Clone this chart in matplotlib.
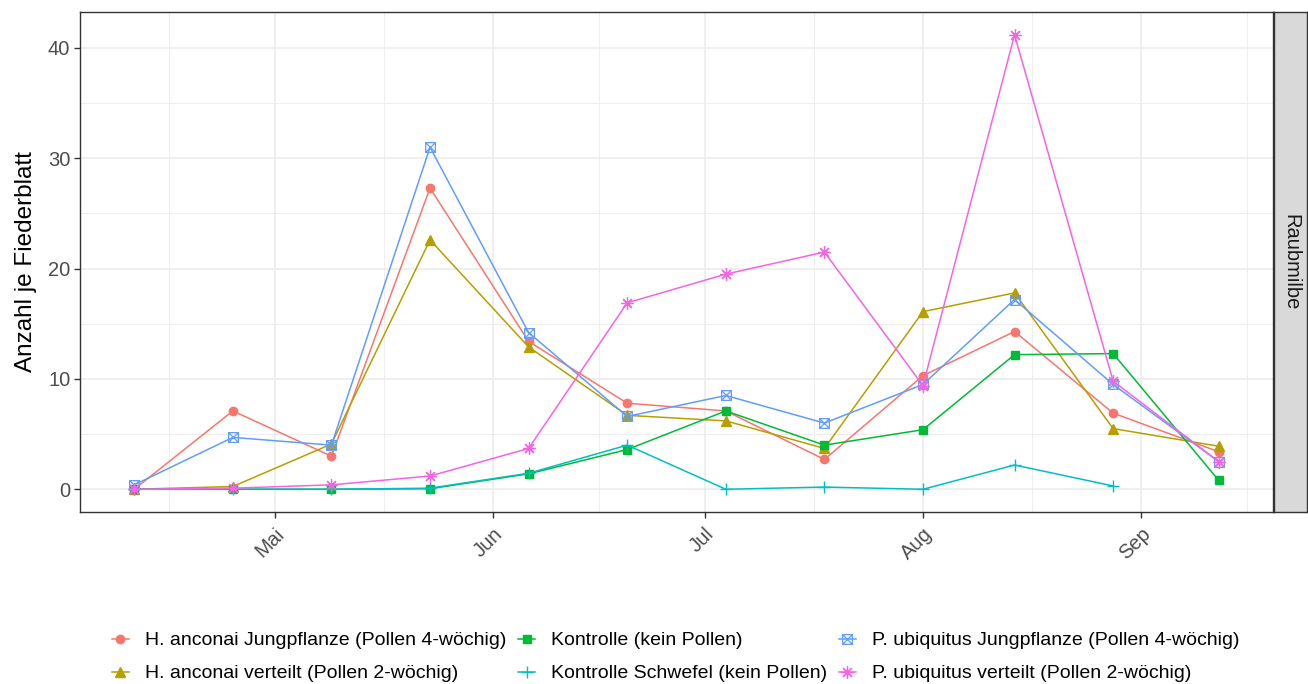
import numpy as np
import matplotlib
matplotlib.use('Agg')
import matplotlib.pyplot as plt
import matplotlib.dates as mdates
from matplotlib.path import Path
from matplotlib.lines import Line2D

plt.rcParams['font.family'] = ['Liberation Sans', 'DejaVu Sans']

# --- Daten ---
termine = np.array(['2019-04-11', '2019-04-25', '2019-05-09', '2019-05-23',
                    '2019-06-06', '2019-06-20', '2019-07-04', '2019-07-18',
                    '2019-08-01', '2019-08-14', '2019-08-28', '2019-09-12'],
                   dtype='datetime64[D]')

ha_jung = [0, 7.1, 3.0, 27.3, 13.4, 7.8, 7.1, 2.7, 10.3, 14.3, 6.9, 3.4]
ha_vert = [0, 0.25, 4.1, 22.6, 12.9, 6.7, 6.2, 3.7, 16.1, 17.8, 5.5, 3.9]
kontrolle = [0, 0, 0, 0.05, 1.4, 3.6, 7.1, 4.0, 5.4, 12.2, 12.3, 0.8]
kontrolle_schwefel = [0, 0, 0, 0.1, 1.45, 4.0, 0, 0.2, 0, 2.2, 0.3, np.nan]
pu_jung = [0.4, 4.7, 4.0, 31.0, 14.2, 6.6, 8.5, 6.0, 9.5, 17.2, 9.5, 2.5]
pu_vert = [0, 0.1, 0.4, 1.2, 3.7, 16.9, 19.5, 21.5, 9.4, 41.2, 9.8, 2.5]

namen = ['H. anconai Jungpflanze (Pollen 4-wöchig)',
         'H. anconai verteilt (Pollen 2-wöchig)',
         'Kontrolle (kein Pollen)',
         'Kontrolle Schwefel (kein Pollen)',
         'P. ubiquitus Jungpflanze (Pollen 4-wöchig)',
         'P. ubiquitus verteilt (Pollen 2-wöchig)']

monate = ['Mai', 'Jun', 'Jul', 'Aug', 'Sep']
monat_start = np.array(['2019-05-01', '2019-06-01', '2019-07-01', '2019-08-01', '2019-09-01'],
                       dtype='datetime64[D]')

# --- Stil (ggplot-Farben / Formen) ---
farben = ['#F8766D', '#B79F00', '#00BA38', '#00BFC4', '#619CFF', '#F564E3']

# Quadrat mit Kreuz (shape 7)
quadrat_x = Path([(-1, -1), (1, -1), (1, 1), (-1, 1), (-1, -1),
                  (-1, -1), (1, 1), (-1, 1), (1, -1)],
                 [Path.MOVETO, Path.LINETO, Path.LINETO, Path.LINETO, Path.CLOSEPOLY,
                  Path.MOVETO, Path.LINETO, Path.MOVETO, Path.LINETO])

stile = [
    dict(marker='o', markersize=6),
    dict(marker='^', markersize=6.5),
    dict(marker='s', markersize=5.5),
    dict(marker='+', markersize=9, markeredgewidth=1.0),
    dict(marker=quadrat_x, markersize=7, markerfacecolor='none', markeredgewidth=0.9),
    dict(marker=(8, 2, 0), markersize=9, markeredgewidth=0.9),
]

reihen = [ha_jung, ha_vert, kontrolle, kontrolle_schwefel, pu_jung, pu_vert]

W, H = 1308, 684
fig = plt.figure(figsize=(W / 100, H / 100), dpi=100)

# Panel und Facetten-Streifen in Pixelkoordinaten
px_l, px_r, px_t, px_b = 80, 1273, 12, 512
ax = fig.add_axes([px_l / W, 1 - px_b / H, (px_r - px_l) / W, (px_b - px_t) / H])
strip = fig.add_axes([(px_r + 1) / W, 1 - px_b / H, (W - px_r - 2) / W, (px_b - px_t) / H])

x = mdates.date2num(termine)
for werte, farbe, stil, name in zip(reihen, farben, stile, namen):
    ax.plot(x, werte, color=farbe, linewidth=1.1, label=name, zorder=3, **stil)

# Achsen wie ggplot (5% Erweiterung)
spanne = x.max() - x.min()
ax.set_xlim(x.min() - 0.05 * spanne, x.max() + 0.05 * spanne)
ymax = np.nanmax([np.nanmax(r) for r in reihen])
ax.set_ylim(-0.05 * ymax, ymax * 1.05)

ax.set_xticks(mdates.date2num(monat_start))
ax.set_xticklabels(monate, rotation=45, ha='right', rotation_mode='anchor')
grenzen = np.array(['2019-04-01', '2019-05-01', '2019-06-01', '2019-07-01',
                    '2019-08-01', '2019-09-01', '2019-10-01'], dtype='datetime64[D]')
gn = mdates.date2num(grenzen)
ax.set_xticks((gn[:-1] + gn[1:]) / 2, minor=True)
ax.set_yticks([0, 10, 20, 30, 40])
ax.set_yticks([5, 15, 25, 35], minor=True)

ax.grid(which='major', color='#EBEBEB', linewidth=1.1, zorder=0)
ax.grid(which='minor', color='#EBEBEB', linewidth=0.6, zorder=0)
ax.set_axisbelow(True)
ax.tick_params(which='major', length=4, width=1.0, color='#333333',
               labelcolor='#4D4D4D', labelsize=14.5)
ax.tick_params(which='minor', length=0)
ax.tick_params(axis='x', pad=5)
ax.tick_params(axis='y', pad=3)
for s in ax.spines.values():
    s.set_color('#333333')
    s.set_linewidth(1.0)

ax.set_ylabel('Anzahl je Fiederblatt', fontsize=17.5, color='black', labelpad=8)

# Facetten-Streifen
strip.set_facecolor('#D9D9D9')
strip.set_xticks([])
strip.set_yticks([])
for s in strip.spines.values():
    s.set_color('#333333')
    s.set_linewidth(1.0)
strip.text(0.5, 0.5, 'Raubmilbe', rotation=270, ha='center', va='center',
           fontsize=14.5, color='#1A1A1A', transform=strip.transAxes)

# Legende unten
griffe = [Line2D([0], [0], color=f, linewidth=1.1, **s) for f, s in zip(farben, stile)]
fig.legend(griffe, namen, loc='upper left', bbox_to_anchor=(102 / W, 1 - 622 / H),
           ncol=3, frameon=False, fontsize=14, handlelength=0.9, borderpad=0,
           handletextpad=0.8, columnspacing=0.6, labelspacing=0.8)

fig.savefig('out.png', dpi=100)
